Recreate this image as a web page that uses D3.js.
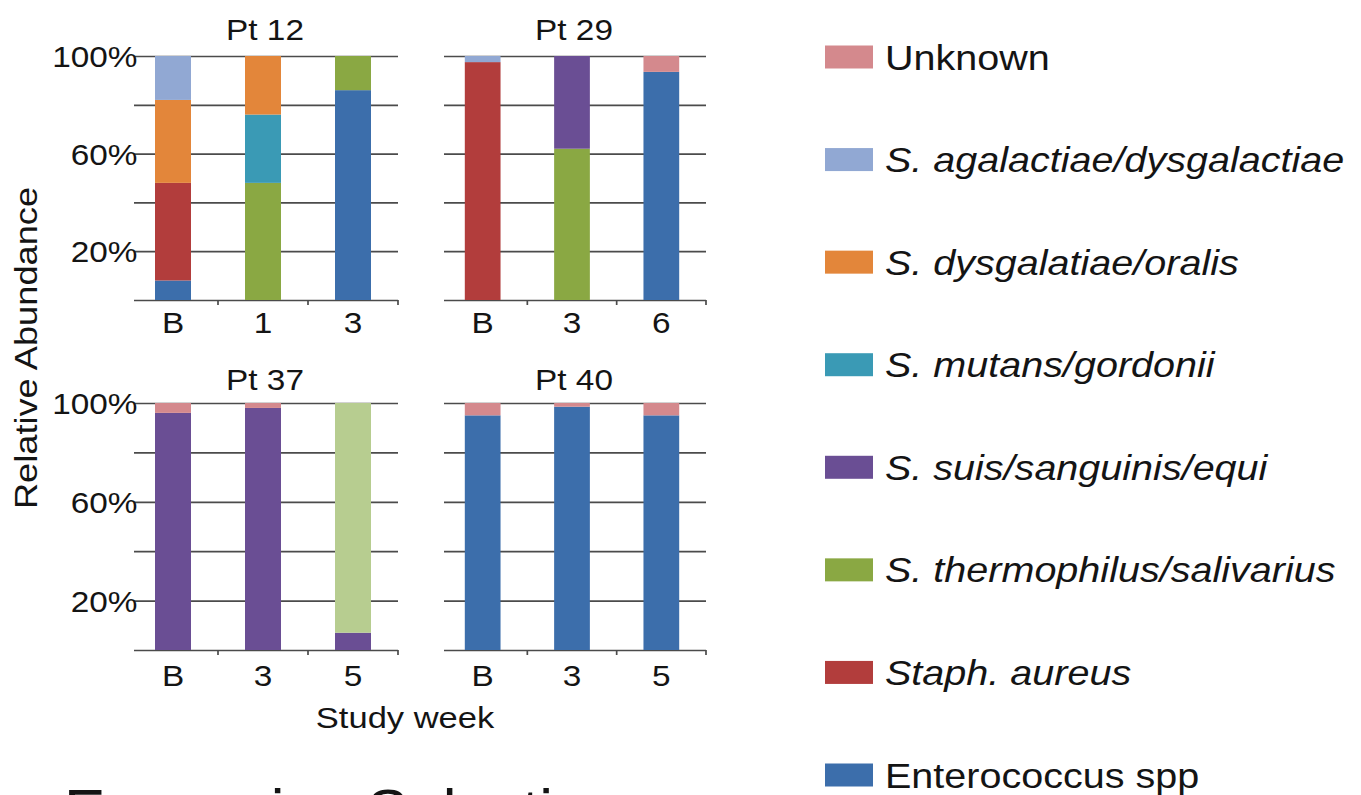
<!DOCTYPE html>
<html><head><meta charset="utf-8">
<script src="https://cdn.jsdelivr.net/npm/d3@7"></script>
<style>
body{margin:0;background:#fff}
text{font-family:"Liberation Sans",Arial,sans-serif;fill:#141414}
</style>
</head><body>
<svg id="chart" width="1361" height="795"></svg>
<script>
// ---------------- data ----------------
const panelTitles = ["Pt 12", "Pt 29", "Pt 37", "Pt 40"];
const weekLabels = [["B", "1", "3"], ["B", "3", "6"], ["B", "3", "5"], ["B", "3", "5"]];
const yTickValues = [0, 20, 40, 60, 80, 100];
const yTickShown = [20, 60, 100];

// relative abundance (%) per bar, panel by panel (Pt12, Pt29, Pt37, Pt40)
const enterococcus = [8, 0, 86,   0, 0, 93.5,   0, 0, 0,    95, 98.5, 95];
const staphAureus  = [40, 0, 0,   97.5, 0, 0,   0, 0, 0,    0, 0, 0];
const thermophilus = [0, 48, 14,  0, 62, 0,     0, 0, 0,    0, 0, 0];
const suis         = [0, 0, 0,    0, 38, 0,     96, 98, 7,  0, 0, 0];
const mutans       = [0, 28, 0,   0, 0, 0,      0, 0, 0,    0, 0, 0];
const dysgalatiae  = [34, 24, 0,  0, 0, 0,      0, 0, 0,    0, 0, 0];
const agalactiae   = [18, 0, 0,   2.5, 0, 0,    0, 0, 0,    0, 0, 0];
const unknown      = [0, 0, 0,    0, 0, 6.5,    4, 2, 0,    5, 1.5, 5];
const otherLight   = [0, 0, 0,    0, 0, 0,      0, 0, 93,   0, 0, 0];

const seriesKeys   = ["entero", "staph", "thermo", "suis", "mutans", "dysgal", "agal", "unknown", "other"];
const seriesLabels = ["Enterococcus spp", "Staph. aureus", "S. thermophilus/salivarius", "S. suis/sanguinis/equi",
                      "S. mutans/gordonii", "S. dysgalatiae/oralis", "S. agalactiae/dysgalactiae", "Unknown", null];
const seriesItalic = [false, true, true, true, true, true, true, false, false];
const seriesColors = ["#3c6eab", "#b23d3c", "#8aa843", "#6a4e94", "#3a9ab5", "#e3863a", "#91a8d3", "#d4898d", "#b7cd90"];
const seriesArrays = [enterococcus, staphAureus, thermophilus, suis, mutans, dysgalatiae, agalactiae, unknown, otherLight];

// ---------------- drawing ----------------
const svg = d3.select("#chart");
svg.append("rect").attr("width", 1361).attr("height", 795).attr("fill", "#fff");

const color = d3.scaleOrdinal().domain(seriesKeys).range(seriesColors);
const GRID = "#4b4b4b";
const SX = 1.15;

const colRanges = [[128, 398], [438, 706]];
const rowRanges = [[300, 56], [650, 403]];

panelTitles.forEach((title, p) => {
  const col = p % 2, row = Math.floor(p / 2);
  const weeks = weekLabels[p];
  const rows = weeks.map((w, j) => {
    const r = {week: w};
    seriesKeys.forEach((k, s) => r[k] = seriesArrays[s][p * 3 + j]);
    return r;
  });
  const stacked = d3.stack().keys(seriesKeys)(rows);

  const [x0, x1] = colRanges[col];
  const x = d3.scaleBand().domain(weeks).range([x0, x1]).paddingInner(0.6).paddingOuter(0.3);
  const y = d3.scaleLinear().domain([0, 100]).range(rowRanges[row]);

  const g = svg.append("g");

  // gridlines + y labels
  const yAxis = d3.axisLeft(y).tickValues(yTickValues)
    .tickSize(-(x1 - x0 - 6)).tickPadding(-3)
    .tickFormat(d => (col === 0 && yTickShown.includes(d)) ? d + "%" : "");
  const ya = g.append("g").attr("transform", `translate(${x0 + 6},0)`).call(yAxis);
  ya.select(".domain").remove();
  ya.selectAll(".tick line").attr("stroke", GRID).attr("stroke-width", 1.7);
  ya.selectAll(".tick text").attr("font-size", null).style("font-size", "29px")
    .attr("dy", "0.36em").attr("transform", `scale(${SX},1)`).attr("fill", "#141414");

  // boundary tick marks on baseline
  const half = x.step() * 0.3;
  const bounds = weeks.map(w => x(w) + x.bandwidth() + half);
  g.selectAll(".btick").data(bounds).join("line")
    .attr("x1", d => d).attr("x2", d => d)
    .attr("y1", y(0)).attr("y2", y(0) + 5)
    .attr("stroke", GRID).attr("stroke-width", 1.7);

  // bars
  g.selectAll(".layer").data(stacked).join("g")
    .attr("fill", d => color(d.key))
    .selectAll("rect").data(d => d.filter(v => v[1] - v[0] > 0)).join("rect")
    .attr("x", d => x(d.data.week))
    .attr("width", x.bandwidth())
    .attr("y", d => y(d[1]))
    .attr("height", d => y(d[0]) - y(d[1]));

  // x labels
  const xa = g.append("g").attr("transform", `translate(0,${y(0)})`)
    .call(d3.axisBottom(x).tickSize(0).tickPadding(0));
  xa.select(".domain").remove();
  xa.selectAll(".tick text").attr("font-size", null).style("font-size", "29px")
    .attr("dy", null).attr("y", row === 0 ? 33 : 36)
    .attr("transform", `scale(${SX},1)`).attr("fill", "#141414");

  // title
  svg.append("text")
    .attr("transform", `translate(${(x0 + x1) / 2 + 2},${row === 0 ? 40 : 390}) scale(${SX},1)`)
    .attr("text-anchor", "middle").style("font-size", "29px").text(title);
});

// axis titles
svg.append("text")
  .attr("transform", `translate(37,348) rotate(-90) scale(${SX},1)`)
  .attr("text-anchor", "middle").style("font-size", "31.5px").text("Relative Abundance");
svg.append("text")
  .attr("transform", `translate(405,728) scale(${SX},1)`)
  .attr("text-anchor", "middle").style("font-size", "30px").text("Study week");

// legend
const legendKeys = seriesKeys.filter((k, i) => seriesLabels[i] !== null).reverse();
const ly = d3.scalePoint().domain(legendKeys).range([57, 775]);
const lg = svg.append("g");
legendKeys.forEach(k => {
  const i = seriesKeys.indexOf(k);
  lg.append("rect").attr("x", 825).attr("y", ly(k) - 11.5).attr("width", 48).attr("height", 23)
    .attr("fill", color(k));
  lg.append("text")
    .attr("transform", `translate(885,${ly(k) + 12.5}) scale(1.13,1)`)
    .style("font-size", "35px")
    .style("font-style", seriesItalic[i] ? "italic" : "normal")
    .text(seriesLabels[i]);
});

// cut-off heading at bottom of the figure
svg.append("text").attr("x", 64).attr("y", 832).style("font-size", "62px").text("Expansion");
svg.append("text").attr("x", 367).attr("y", 832).style("font-size", "62px").text("Selection");
</script>
</body></html>
